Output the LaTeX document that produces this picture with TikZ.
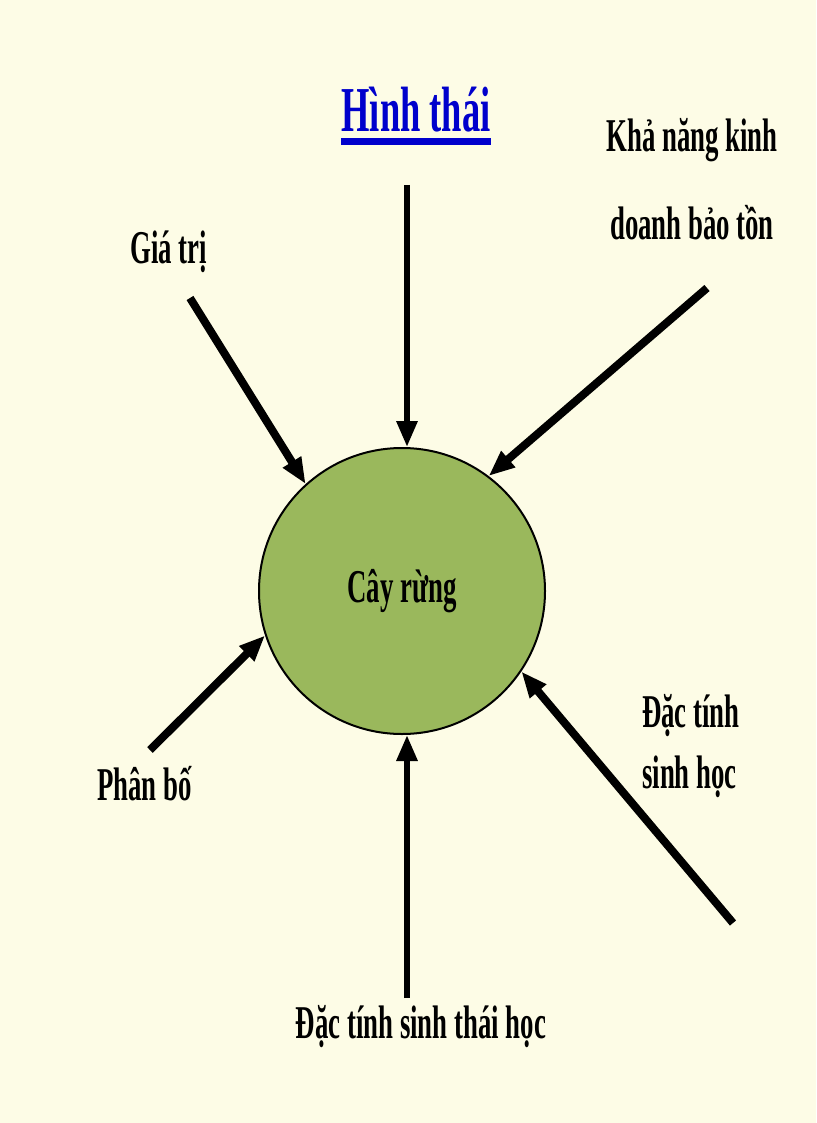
\documentclass[tikz,border=0pt]{standalone}
\usepackage{fontspec}
\setmainfont{Liberation Serif}[FakeStretch=0.57]
\usetikzlibrary{arrows.meta}
\definecolor{nen}{RGB}{253,252,230}
\definecolor{la}{RGB}{154,184,92}
\definecolor{xanh}{RGB}{0,0,204}
\tikzset{
  lbl/.style={font=\fontsize{47}{61}\selectfont\bfseries,inner sep=0pt},
  muiten/.style={-{Triangle[length=26pt,width=20pt]},line width=8pt},
}

\begin{document}
\begin{tikzpicture}[x=1pt,y=-1pt]
\fill[nen] (0,0) rectangle (816,1123);
\useasboundingbox (0,0) rectangle (816,1123);
\node[lbl,draw,line width=2pt,fill=la,circle,minimum size=286pt] (cay) at (402,591) {Cây rừng};
\node[lbl,font=\fontsize{64}{70}\selectfont\bfseries,text=xanh,anchor=base] (hinhthai) at (416,132) {Hình thái};
\draw[xanh,line width=7pt] ([yshift=-10pt]hinhthai.base west) -- ([yshift=-10pt]hinhthai.base east);
\node[lbl,anchor=base west] (gia) at (130,263) {Giá trị};
\node[lbl,anchor=base,align=center] (kha) at (692,240) {Khả năng kinh\\[27pt]doanh bảo tồn};
\node[lbl,anchor=base west] (phan) at (97,800) {Phân bố};
\node[lbl,anchor=base west,align=left] (dacsh) at (642,788) {Đặc tính\\sinh học};
\node[lbl,anchor=base] (dacst) at (421,1038) {Đặc tính sinh thái học};
\coordinate (a1) at (407,185);
\coordinate (a2) at (190,298);
\coordinate (a3) at (707,288);
\coordinate (a4) at (150,750);
\coordinate (a5) at (733,923);
\coordinate (a6) at (407,998);
\draw[muiten,line width=6pt] (a1) -- (a1 |- cay.north);
\draw[muiten] (a2) -- (cay.132);
\draw[muiten] (a3) -- (cay.53);
\draw[muiten] (a4) -- (cay.198);
\draw[muiten] (a5) -- (cay.326);
\draw[muiten,line width=6pt] (a6) -- (a6 |- cay.south);
\end{tikzpicture}
\end{document}
